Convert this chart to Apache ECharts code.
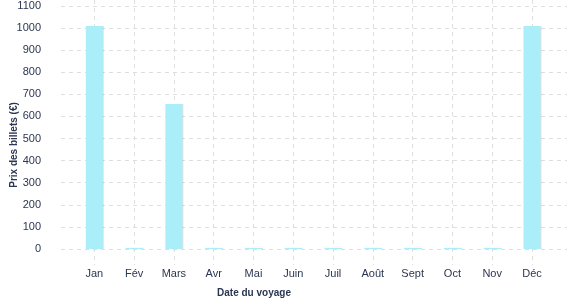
<!DOCTYPE html>
<html><head><meta charset="utf-8">
<script src="https://cdn.jsdelivr.net/npm/echarts@6/dist/echarts.min.js"></script>
<style>html,body{margin:0;padding:0;background:#fff}#c{width:577px;height:300px}</style>
</head><body><div id="c"></div>
<script>
const categories = ['Jan','Fév','Mars','Avr','Mai','Juin','Juil','Août','Sept','Oct','Nov','Déc'];
const prices = [1010, 5, 656, 5, 5, 5, 5, 5, 5, 5, 5, 1010];
const yTicks = {min: 0, max: 1100, interval: 100};
const xTitle = 'Date du voyage';
const yTitle = 'Prix des billets (€)';

const FONT = 'Liberation Sans, Arial, sans-serif';
const TXT = '#2b3652';
const dash = {color: '#dedede', type: [4, 4], width: 1};
const chart = echarts.init(document.getElementById('c'), null, {renderer: 'canvas'});
chart.setOption({
  animation: false,
  grid: [
    {left: 61, width: 506, top: 6, bottom: 51},
    {left: 94.3, width: 437.7, top: 6, bottom: 51},
    {left: 94.3, width: 437.7, top: 0, bottom: 35}
  ],
  xAxis: [
    {gridIndex: 0, type: 'value', show: false},
    {gridIndex: 1, type: 'category', data: categories, boundaryGap: false,
      axisLine: {show: false}, axisTick: {show: false}, splitLine: {show: false},
      axisLabel: {margin: 19, color: TXT, fontSize: 11, fontFamily: FONT}},
    {gridIndex: 2, type: 'category', data: categories, boundaryGap: false,
      axisLine: {show: false}, axisTick: {show: false}, axisLabel: {show: false},
      splitLine: {show: true, lineStyle: dash}}
  ],
  yAxis: [
    {gridIndex: 0, type: 'value', min: yTicks.min, max: yTicks.max, interval: yTicks.interval,
      axisLine: {show: false}, axisTick: {show: false},
      axisLabel: {margin: 20, color: TXT, fontSize: 11, fontFamily: FONT, formatter: v => String(v)},
      splitLine: {show: true, lineStyle: dash}},
    {gridIndex: 1, type: 'value', min: yTicks.min, max: yTicks.max, show: false},
    {gridIndex: 2, type: 'value', min: 0, max: 1, show: false}
  ],
  graphic: [
    {type: 'text', x: 254, y: 293, style: {text: xTitle, textAlign: 'center', textVerticalAlign: 'middle',
      font: 'bold 10px ' + FONT, fill: TXT}},
    {type: 'text', x: 14, y: 145, rotation: Math.PI / 2, style: {text: yTitle, textAlign: 'center', textVerticalAlign: 'middle',
      font: 'bold 10px ' + FONT, fill: TXT}}
  ],
  series: [{
    type: 'bar', xAxisIndex: 1, yAxisIndex: 1, data: prices, barWidth: 17, clip: false,
    itemStyle: {color: '#aaeefa', shadowColor: 'rgba(0,0,0,0.12)', shadowOffsetX: 1, shadowBlur: 0}
  }]
});
</script></body></html>
